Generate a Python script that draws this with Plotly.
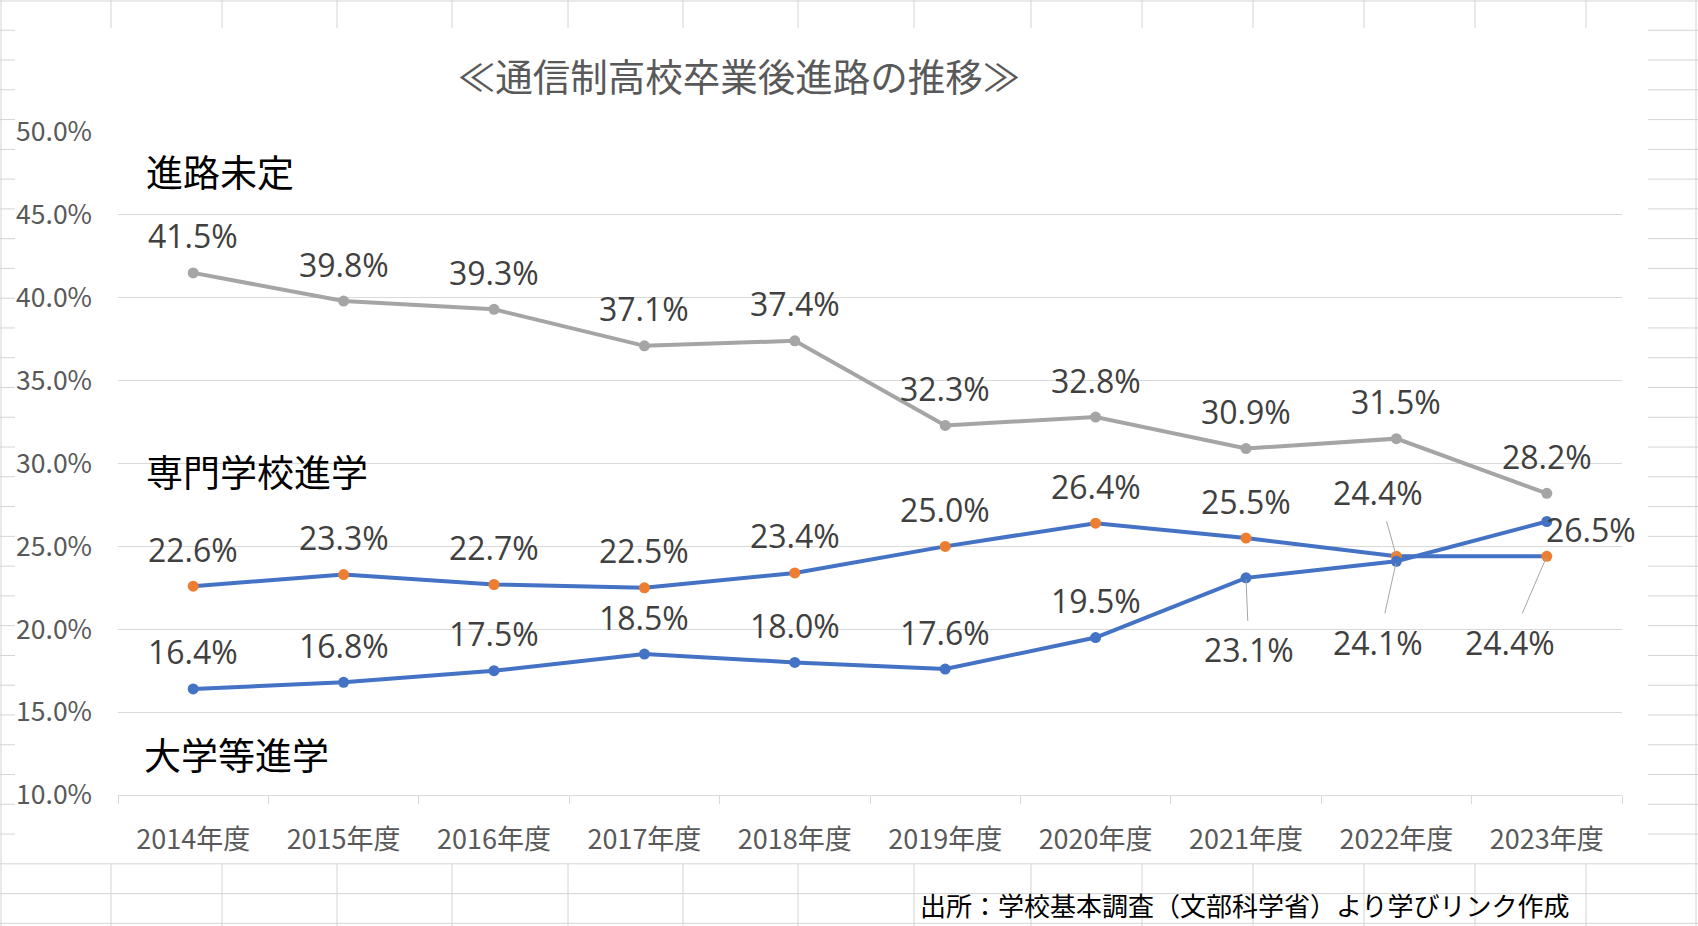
import plotly.graph_objects as go

# ---------------- data ----------------
years = ["2014年度", "2015年度", "2016年度", "2017年度", "2018年度",
         "2019年度", "2020年度", "2021年度", "2022年度", "2023年度"]
undecided = [41.5, 39.8, 39.3, 37.1, 37.4, 32.3, 32.8, 30.9, 31.5, 28.2]     # 進路未定
vocational = [22.6, 23.3, 22.7, 22.5, 23.4, 25.0, 26.4, 25.5, 24.4, 24.4]    # 専門学校進学
university = [16.4, 16.8, 17.5, 18.5, 18.0, 17.6, 19.5, 23.1, 24.1, 26.5]    # 大学等進学
y_ticks = [10, 15, 20, 25, 30, 35, 40, 45, 50]

title_text = "≪通信制高校卒業後進路の推移≫"
series_names = ["進路未定", "専門学校進学", "大学等進学"]
source_text = "出所：学校基本調査（文部科学省）より学びリンク作成"

# ---------------- layout geometry (pixels) ----------------
W, H = 1698, 926
L, R, T, B = 118, 1622, 132, 795
pw, ph = R - L, B - T


def px_x(p):
    return (p - L) / pw


def px_y(p):
    return (B - p) / ph


GRAY = "#A5A5A5"
BLUE = "#4472C4"
ORANGE = "#ED7D31"
LABEL_C = "#404040"
AXIS_C = "#595959"
GRID_C = "#D9D9D9"
CELL_C = "#D4D4D4"
JP = "Noto Sans CJK JP"
NUM = "Open Sans"

fig = go.Figure()
fig.add_trace(go.Scatter(x=years, y=undecided, mode="lines+markers", name=series_names[0],
                         line=dict(color=GRAY, width=4), marker=dict(color=GRAY, size=11)))
fig.add_trace(go.Scatter(x=years, y=vocational, mode="lines+markers", name=series_names[1],
                         line=dict(color=BLUE, width=4), marker=dict(color=ORANGE, size=11)))
fig.add_trace(go.Scatter(x=years, y=university, mode="lines+markers", name=series_names[2],
                         line=dict(color=BLUE, width=4), marker=dict(color=BLUE, size=11)))

annotations = []

# special label placements: (series, index) -> (dx, dy, leader)
special = {
    ("voc", 8): (-18, -64, True),
    ("voc", 9): (-37, 86, True),
    ("uni", 7): (3, 72, True),
    ("uni", 8): (-18, 81, True),
    ("uni", 9): (44, 8, False),
}

for key, vals in (("und", undecided), ("voc", vocational), ("uni", university)):
    for i, v in enumerate(vals):
        txt = f"{v:.1f}%"
        base = dict(x=years[i], y=v, xref="x", yref="y", text=txt,
                    font=dict(family=NUM, size=32, color=LABEL_C))
        if (key, i) in special:
            dx, dy, leader = special[(key, i)]
            if leader:
                annotations.append(dict(**base, showarrow=True, ax=dx, ay=dy,
                                        arrowhead=0, arrowwidth=1, arrowcolor="#A6A6A6",
                                        standoff=2, borderpad=7))
            else:
                annotations.append(dict(**base, showarrow=False, xshift=dx, yshift=-dy))
        else:
            annotations.append(dict(**base, showarrow=False, yshift=37))

# series name labels
for name, ypx, xpx in ((series_names[0], 171, 144), (series_names[1], 471, 144), (series_names[2], 754, 142)):
    annotations.append(dict(x=px_x(xpx), y=px_y(ypx), xref="paper", yref="paper", text=name,
                            showarrow=False, xanchor="left", yanchor="middle",
                            font=dict(family=JP, size=37, color="#000000")))

# source note
annotations.append(dict(x=px_x(918), y=px_y(904), xref="paper", yref="paper", text=source_text,
                        showarrow=False, xanchor="left", yanchor="middle",
                        font=dict(family=JP, size=26, color="#000000")))

# ---------------- spreadsheet cell lines around the chart ----------------
shapes = []
col_x = [111, 222, 337, 452, 568, 683, 798, 914, 1031, 1142, 1253, 1364, 1475, 1586]
row_y = [29.77 * k + 0.5 for k in range(1, 32)]
chart_l, chart_r, chart_t, chart_b = 15, 1648, 28, 864


def line(x0, y0, x1, y1, color=CELL_C, width=1):
    shapes.append(dict(type="line", xref="paper", yref="paper",
                       x0=px_x(x0), y0=px_y(y0), x1=px_x(x1), y1=px_y(y1),
                       line=dict(color=color, width=width), layer="below"))


for cx in col_x:
    line(cx, 0, cx, chart_t)
    line(cx, chart_b, cx, H)
for ry in row_y:
    if ry < chart_b - 1:
        line(0, ry, chart_l, ry)
        line(chart_r, ry, W, ry)
    else:
        line(0, ry, W, ry)
line(1, 0, 1, H)
line(0, 1, W, 1)
line(W - 2, 0, W - 2, H)

fig.update_layout(
    width=W, height=H,
    margin=dict(l=L, r=W - R, t=T, b=H - B, autoexpand=False),
    paper_bgcolor="white", plot_bgcolor="white",
    showlegend=False,
    title=dict(text=title_text, x=739 / W, y=1 - 78 / H, xanchor="center", yanchor="middle",
               font=dict(family=JP, size=37.5, color=AXIS_C)),
    annotations=annotations,
    shapes=shapes,
    xaxis=dict(type="category", range=[-0.5, 9.5], showgrid=False, showline=True,
               linecolor=GRID_C, linewidth=1.3, ticks="outside", ticklen=8, tickcolor=GRID_C,
               tickwidth=1.3, tickson="boundaries", ticklabelstandoff=20,
               tickfont=dict(family=JP, size=27, color=AXIS_C), fixedrange=True),
    yaxis=dict(range=[10, 50], tickvals=y_ticks, ticktext=[f"{t:.1f}%" for t in y_ticks],
               showgrid=True, gridcolor=GRID_C, gridwidth=1.3, zeroline=False, showline=False,
               ticks="", ticklabelstandoff=25,
               tickfont=dict(family=JP, size=26.5, color=AXIS_C), fixedrange=True),
)

fig.write_html("out.html", config={"displayModeBar": False},
               post_script="document.body.style.margin='0';document.body.style.overflow='hidden';")
